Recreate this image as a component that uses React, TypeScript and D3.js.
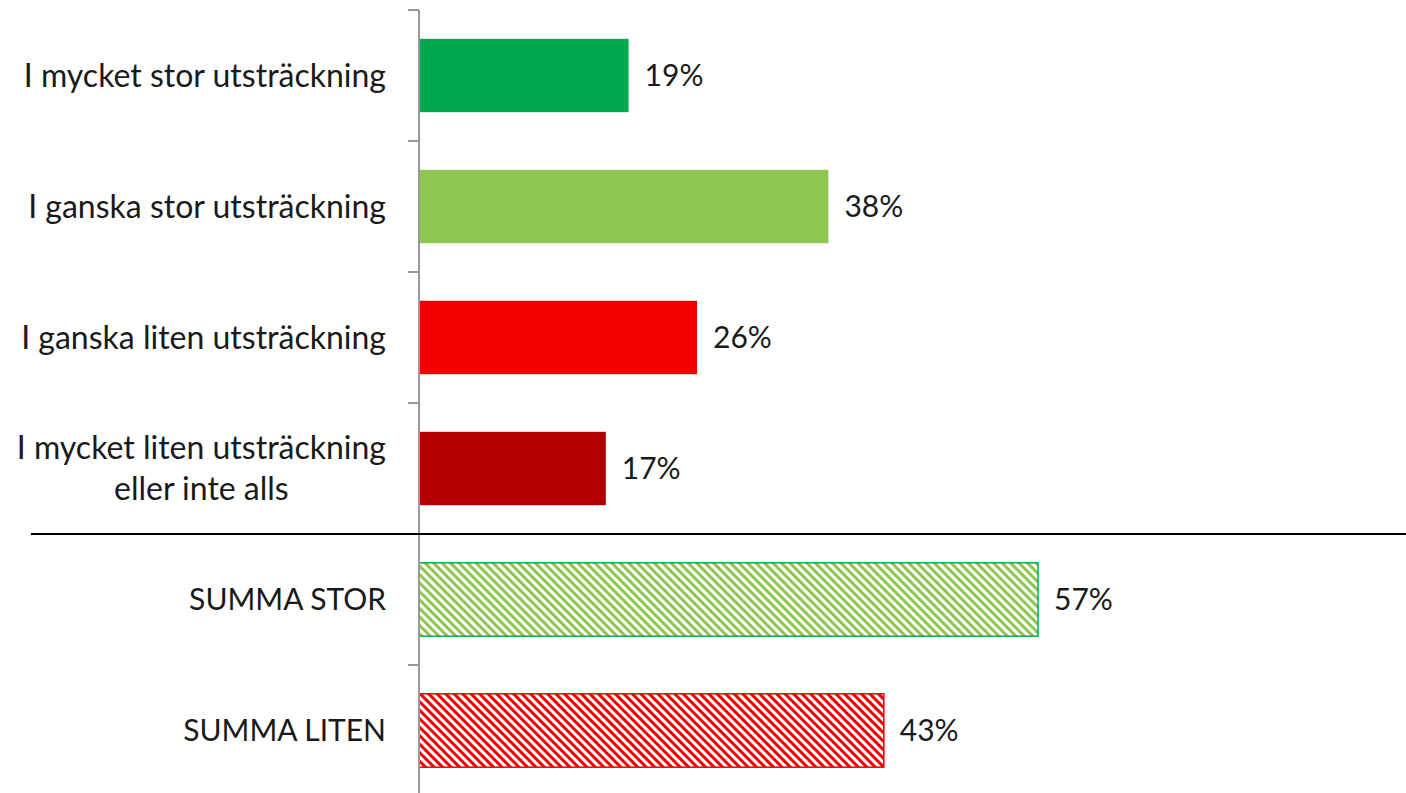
import React from "react";
import * as d3 from "d3";

const categories = [
  "I mycket stor utsträckning",
  "I ganska stor utsträckning",
  "I ganska liten utsträckning",
  "I mycket liten utsträckning|eller inte alls",
  "SUMMA STOR",
  "SUMMA LITEN",
];
const values = [19.3, 37.7, 25.6, 17.2, 57.0, 42.8];
const labels = ["19%", "38%", "26%", "17%", "57%", "43%"];
const fills = ["#00A84F", "#8DC74F", "#F00000", "#B20000", "url(#hatchGreen)", "url(#hatchRed)"];
const strokes = ["none", "none", "none", "none", "#00B050", "#F00000"];

const W = 1406;
const H = 793;
const axisX = 419;
const top = 10;
const band = 131;
const font = "Lato, 'Open Sans', sans-serif";
const fs = 32;

function measure(text: string, size: number): number {
  if (typeof document === "undefined") return text.length * size * 0.45;
  const c = document.createElement("canvas").getContext("2d");
  if (!c) return text.length * size * 0.45;
  c.font = `${size}px Lato`;
  return c.measureText(text).width;
}

export default function App() {
  const y = d3
    .scaleBand<string>()
    .domain(categories)
    .range([top, top + band * categories.length])
    .paddingInner(0.44)
    .paddingOuter(0.22);
  const x = d3.scaleLinear().domain([0, 100]).range([axisX, axisX + 1086]);
  const ticks = d3.range(categories.length + 1).map((i) => top + i * band);
  const labelRight = 386;
  return (
    <svg width={W} height={H} style={{ position: "absolute", left: 0, top: 0, background: "#fff" }}>
      <defs>
        <pattern id="hatchGreen" patternUnits="userSpaceOnUse" width="6" height="6" patternTransform="rotate(45)">
          <rect width="6" height="6" fill="#fff" />
          <rect width="6" height="3" fill="#8DC74F" />
        </pattern>
        <pattern id="hatchRed" patternUnits="userSpaceOnUse" width="6" height="6" patternTransform="rotate(45)">
          <rect width="6" height="6" fill="#fff" />
          <rect width="6" height="3" fill="#F00000" />
        </pattern>
      </defs>
      {categories.map((c, i) => {
        const by = y(c)!;
        const bh = y.bandwidth();
        const lines = c.split("|");
        const cy = by + bh / 2;
        const multi = lines.length > 1;
        const upper = c === c.toUpperCase();
        const size = upper ? 30 : fs;
        const maxW = multi ? Math.max(...lines.map((l) => measure(l, size))) : 0;
        const tx = multi ? labelRight - maxW / 2 : labelRight;
        return (
          <g key={c}>
            <rect
              x={x(0)}
              y={by}
              width={x(values[i]) - x(0)}
              height={bh}
              fill={fills[i]}
              stroke={strokes[i]}
              strokeWidth={strokes[i] === "none" ? 0 : 1.5}
            />
            <text
              x={x(values[i]) + 16}
              y={cy}
              dy="0.35em"
              fontFamily={font}
              fontSize={30}
              fill="#1a1a1a"
            >
              {labels[i]}
            </text>
            <text textAnchor={multi ? "middle" : "end"} fontFamily={font} fontSize={size} fill="#1a1a1a">
              {lines.map((l, j) => (
                <tspan key={j} x={tx} y={cy + (j - (lines.length - 1) / 2) * 41} dy="0.35em">
                  {l}
                </tspan>
              ))}
            </text>
          </g>
        );
      })}
      <line x1={axisX} x2={axisX} y1={top} y2={H} stroke="#999" strokeWidth={2} />
      {ticks.map((t, i) => (
        <line key={i} x1={axisX - 11} x2={axisX} y1={t} y2={t} stroke="#999" strokeWidth={2} />
      ))}
      <line x1={31} x2={W} y1={534} y2={534} stroke="#000" strokeWidth={2} />
    </svg>
  );
}
